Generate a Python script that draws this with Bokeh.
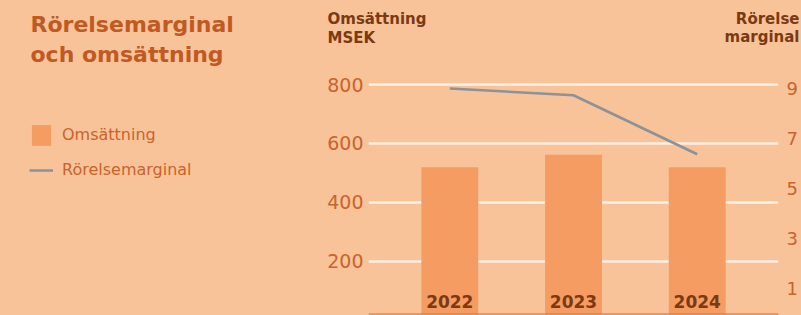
from bokeh.plotting import figure
from bokeh.layouts import column, row
from bokeh.models import (Range1d, FactorRange, LinearAxis, FixedTicker, Span, Label,
                          Legend, LegendItem)
from bokeh.core.properties import value
from bokeh.embed import file_html
from bokeh.resources import INLINE

# ---- data ----
years = ["2022", "2023", "2024"]
revenue_msek = [519, 562, 519]
margin_pct = [9.0, 8.73, 6.37]
left_ticks = [200, 400, 600, 800]
right_ticks = [1, 3, 5, 7, 9]

# ---- style ----
FONT = "DejaVu Sans"
BG = "#f9c39a"
BAR = "#f49c62"
ORANGE_TXT = "#c8642c"
TITLE_TXT = "#c05a22"
DARK = "#7a3a12"
GRID = "#fdf0e4"
LINE = "#8b929a"
AXLINE = "#d86e30"


def blank(w, h, x0, x1, y0, y1):
    f = figure(width=w, height=h, output_backend="svg", toolbar_location=None,
               x_range=Range1d(x0, x1), y_range=Range1d(y0, y1),
               min_border=0)
    f.title = None
    f.axis.visible = False
    f.grid.visible = False
    f.outline_line_color = None
    f.background_fill_color = BG
    f.border_fill_color = BG
    return f


def lab(f, text, x, y, size, color, bold=True, align="left"):
    f.add_layout(Label(x=x, y=y, text=text,
                       text_font=FONT, text_font_size=size,
                       text_font_style="bold" if bold else "normal",
                       text_color=color, text_align=align,
                       text_baseline="alphabetic"))


# ---- top strip: titles and axis headers (pixel-like coordinates) ----
top = blank(801, 70, 0, 801, 70, 0)
lab(top, "Rörelsemarginal", 30, 24, "22px", TITLE_TXT)
lab(top, "och omsättning", 30, 54, "22px", TITLE_TXT)
lab(top, "Omsättning", 327, 18, "15px", DARK)
lab(top, "MSEK", 327, 37, "15px", DARK)
lab(top, "Rörelse", 799, 18, "15px", DARK, align="right")
lab(top, "marginal", 799, 36, "15px", DARK, align="right")

# ---- left block: legend (proxy renderers, hidden) ----
side = blank(320, 245, 0, 320, 315, 70)
lg_bar = side.vbar(x=list(range(len(years))), top=revenue_msek, width=0.5,
                   fill_color=BAR, line_color=None, visible=False)
lg_line = side.line(x=list(range(len(years))), y=margin_pct,
                    line_color=LINE, line_width=2.5, visible=False)
legend = Legend(items=[LegendItem(label="Omsättning", renderers=[lg_bar]),
                       LegendItem(label="Rörelsemarginal", renderers=[lg_line])],
                location=(29, 131.5), orientation="vertical",
                padding=0, margin=0, spacing=9,
                glyph_width=24, glyph_height=26, label_standoff=9,
                label_text_font=FONT, label_text_font_size="16px",
                label_text_color=ORANGE_TXT, inactive_fill_alpha=0,
                background_fill_alpha=0, border_line_color=None)
side.add_layout(legend, "center")

# ---- main chart ----
p = figure(width=481, height=245, output_backend="svg", toolbar_location=None,
           x_range=FactorRange(factors=years, range_padding=0.157,
                               range_padding_units="absolute"),
           y_range=Range1d(20, 847.5),
           min_border_left=48, min_border_right=23, min_border_top=0,
           min_border_bottom=1)
p.title = None
p.background_fill_color = BG
p.border_fill_color = BG
p.outline_line_color = None
p.extra_y_ranges = {"right": Range1d(-0.04, 9.72)}

p.xaxis.visible = False
ya = p.yaxis[0]
ya.ticker = FixedTicker(ticks=left_ticks)
ya.axis_line_color = None
ya.major_tick_line_color = None
ya.minor_tick_line_color = None
ya.major_tick_out = 0
ya.major_tick_in = 0
ya.major_label_text_font = FONT
ya.major_label_text_font_size = "19px"
ya.major_label_text_color = ORANGE_TXT
ya.major_label_standoff = 5

ra = LinearAxis(y_range_name="right", ticker=FixedTicker(ticks=right_ticks))
ra.axis_line_color = None
ra.major_tick_line_color = None
ra.minor_tick_line_color = None
ra.major_tick_out = 0
ra.major_tick_in = 0
ra.major_label_text_font = FONT
ra.major_label_text_font_size = "18px"
ra.major_label_text_color = ORANGE_TXT
ra.major_label_standoff = 8
p.add_layout(ra, "right")

p.xgrid.visible = False
p.ygrid.grid_line_color = GRID
p.ygrid.grid_line_width = 2.5

p.vbar(x=years, top=revenue_msek, width=0.46, bottom=0,
       fill_color=BAR, line_color=None)
p.line(x=years, y=margin_pct, y_range_name="right",
       line_color=LINE, line_width=2.5)

p.text(x=years, y=[20] * len(years), text=years, y_offset=-7,
       text_align="center", text_baseline="bottom",
       text_font=value(FONT), text_font_style="bold",
       text_font_size="17px", text_color=DARK)

p.add_layout(Span(location=20, dimension="width", line_color=AXLINE, line_width=2))

layout = column(top, row(side, p, spacing=0), spacing=0)

tmpl = """{% block preamble %}<style>body{background:#f9c39a;}</style>{% endblock %}"""
open("out.html", "w").write(file_html(layout, INLINE, template=tmpl))
